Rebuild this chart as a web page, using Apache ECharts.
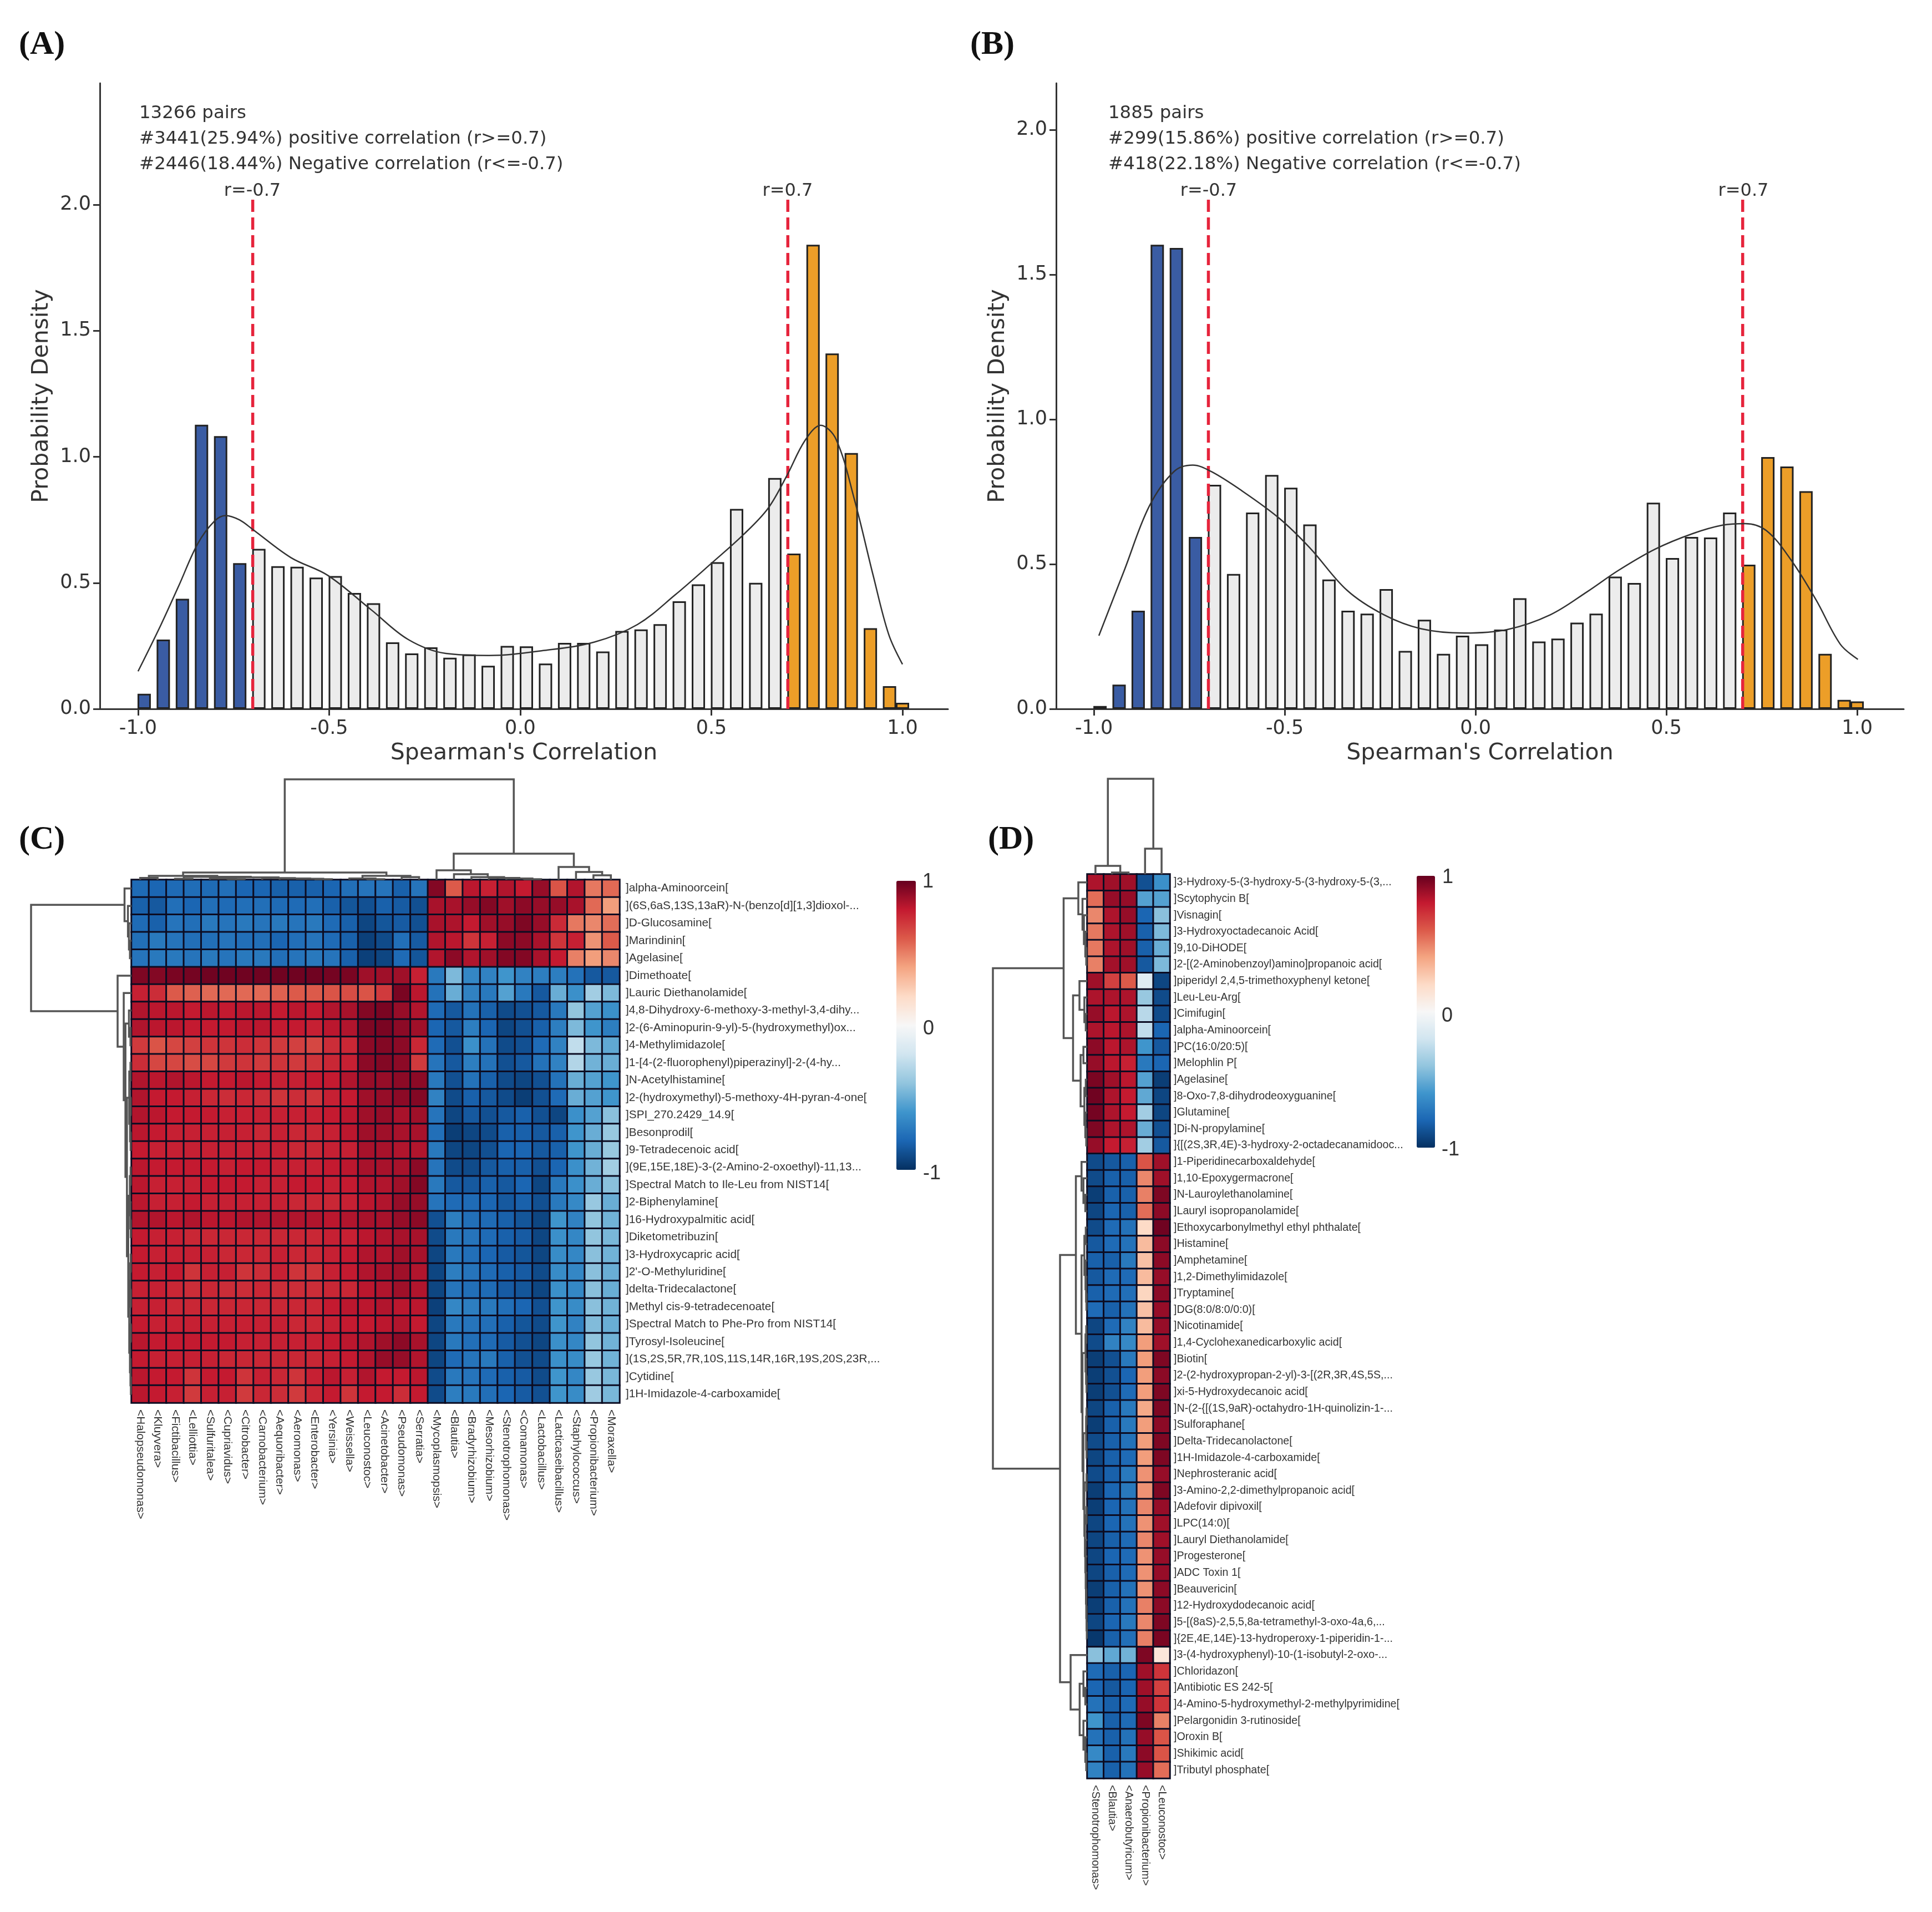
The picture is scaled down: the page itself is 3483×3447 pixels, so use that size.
<!DOCTYPE html>
<html>
<head>
<meta charset="utf-8">
<style>html,body{margin:0;padding:0;background:#fff}#c{width:3483px;height:3447px}</style>
<script src="https://cdn.jsdelivr.net/npm/echarts@6/dist/echarts.min.js"></script>
</head>
<body>
<div id="c"></div>
<script>
// ---------- histogram data ----------
const binCenters = [-0.984,-0.934,-0.884,-0.834,-0.784,-0.734,-0.684,-0.634,-0.584,-0.534,-0.484,-0.434,-0.384,-0.334,-0.284,-0.234,-0.184,-0.134,-0.084,-0.034,0.016,0.066,0.116,0.166,0.216,0.266,0.316,0.366,0.416,0.466,0.516,0.566,0.616,0.666,0.716,0.766,0.816,0.866,0.916,0.966,1.0];
const densityA = [.06,.275,.437,1.127,1.082,.578,.635,.566,.564,.521,.527,.46,.419,.264,.22,.244,.203,.216,.171,.25,.248,.18,.262,.262,.228,.309,.315,.336,.427,.494,.582,.793,.5,.916,.616,1.841,1.41,1.015,.32,.09,.024];
const densityB = [.01,.084,.339,1.603,1.592,.594,.774,.466,.678,.808,.764,.637,.447,.339,.329,.414,.2,.308,.19,.253,.223,.274,.382,.233,.243,.298,.329,.457,.435,.712,.521,.594,.592,.678,.498,.87,.837,.752,.19,.031,.026];
const kdeA = [[-1,.149],[-.94,.334],[-.893,.49],[-.844,.655],[-.8,.745],[-.771,.767],[-.735,.75],[-.70,.712],[-.6,.6],[-.504,.53],[-.39,.393],[-.293,.275],[-.195,.22],[-.082,.212],[.064,.232],[.194,.265],[.307,.335],[.405,.452],[.502,.58],[.583,.69],[.648,.795],[.697,.924],[.745,1.065],[.786,1.125],[.826,1.07],[.875,.826],[.923,.531],[.964,.295],[1,.177]];
const kdeB = [[-.987,.253],[-.92,.48],[-.855,.70],[-.79,.82],[-.741,.842],[-.693,.82],[-.612,.753],[-.515,.659],[-.434,.556],[-.337,.41],[-.24,.325],[-.143,.277],[-.03,.262],[.083,.274],[.196,.325],[.293,.405],[.374,.478],[.471,.552],[.568,.605],[.649,.635],[.706,.64],[.762,.616],[.827,.514],[.892,.377],[.956,.223],[1.002,.171]];
const cutoffs = [-0.7, 0.7];
const cutoffTopA = 2.026, cutoffTopB = 1.764;
const xTicks = [-1, -0.5, 0, 0.5, 1];
const yTicksA = [0, .5, 1, 1.5, 2];
const textA = ['13266 pairs','#3441(25.94%) positive correlation (r>=0.7)','#2446(18.44%) Negative correlation (r<=-0.7)'];
const textB = ['1885 pairs','#299(15.86%) positive correlation (r>=0.7)','#418(22.18%) Negative correlation (r<=-0.7)'];

// ---------- heatmap C ----------
const colsC = ['<Halopseudomonas>','<Kluyvera>','<Fictibacillus>','<Lelliottia>','<Sulfuritalea>','<Cupriavidus>','<Citrobacter>','<Carnobacterium>','<Aequoribacter>','<Aeromonas>','<Enterobacter>','<Yersinia>','<Weissella>','<Leuconostoc>','<Acinetobacter>','<Pseudomonas>','<Serratia>','<Mycoplasmopsis>','<Blautia>','<Bradyrhizobium>','<Mesorhizobium>','<Stenotrophomonas>','<Comamonas>','<Lactobacillus>','<Lacticaseibacillus>','<Staphylococcus>','<Propionibacterium>','<Moraxella>'];
const rowsC = [']alpha-Aminoorcein[','](6S,6aS,13S,13aR)-N-(benzo[d][1,3]dioxol-...',']D-Glucosamine[',']Marindinin[',']Agelasine[',']Dimethoate[',']Lauric Diethanolamide[',']4,8-Dihydroxy-6-methoxy-3-methyl-3,4-dihy...',']2-(6-Aminopurin-9-yl)-5-(hydroxymethyl)ox...',']4-Methylimidazole[',']1-[4-(2-fluorophenyl)piperazinyl]-2-(4-hy...',']N-Acetylhistamine[',']2-(hydroxymethyl)-5-methoxy-4H-pyran-4-one[',']SPI_270.2429_14.9[',']Besonprodil[',']9-Tetradecenoic acid[','](9E,15E,18E)-3-(2-Amino-2-oxoethyl)-11,13...',']Spectral Match to Ile-Leu from NIST14[',']2-Biphenylamine[',']16-Hydroxypalmitic acid[',']Diketometribuzin[',']3-Hydroxycapric acid[',"]2'-O-Methyluridine[",']delta-Tridecalactone[',']Methyl cis-9-tetradecenoate[',']Spectral Match to Phe-Pro from NIST14[',']Tyrosyl-Isoleucine[','](1S,2S,5R,7R,10S,11S,14R,16R,19S,20S,23R,...',']Cytidine[',']1H-Imidazole-4-carboxamide['];
const corrC = [
[-78,-80,-78,-77,-78,-76,-80,-80,-82,-82,-82,-80,-76,-74,-74,-82,-74,94,60,82,78,84,80,90,62,84,52,56],
[-82,-85,-76,-80,-76,-78,-76,-76,-78,-78,-76,-82,-86,-88,-82,-84,-88,86,86,90,94,88,92,90,90,86,56,42],
[-78,-82,-74,-76,-72,-74,-72,-74,-72,-74,-72,-78,-82,-92,-86,-84,-88,86,85,80,88,90,95,90,75,52,48,55],
[-76,-72,-74,-76,-76,-74,-76,-76,-80,-76,-74,-78,-82,-94,-90,-76,-84,84,82,72,78,92,92,86,72,78,45,60],
[-74,-72,-72,-74,-72,-74,-72,-72,-76,-74,-72,-74,-82,-94,-92,-78,-86,84,92,84,88,94,94,86,80,50,42,48],
[95,94,96,97,98,98,98,98,98,98,98,97,96,88,88,88,78,-72,-45,-66,-68,-60,-68,-70,-70,-75,-85,-85],
[78,74,60,58,56,56,56,56,58,60,60,62,64,62,70,96,82,-75,-50,-68,-72,-55,-72,-85,-50,-62,-35,-45],
[84,82,82,80,82,80,82,82,80,82,80,84,86,94,96,90,84,-78,-85,-75,-82,-90,-88,-85,-72,-40,-55,-62],
[84,82,82,80,80,80,82,82,80,80,78,82,84,95,96,92,88,-80,-85,-70,-80,-92,-88,-82,-70,-45,-60,-70],
[70,62,66,68,72,72,74,72,70,68,66,74,76,92,94,92,76,-78,-88,-62,-75,-90,-88,-78,-68,-25,-45,-52],
[74,66,66,64,66,70,72,70,72,70,72,76,78,92,94,92,70,-74,-85,-70,-75,-88,-85,-75,-68,-30,-48,-50],
[84,82,84,82,80,80,82,80,78,78,80,80,84,90,90,92,92,-72,-88,-75,-82,-90,-92,-88,-75,-50,-55,-60],
[84,80,80,78,76,74,76,74,72,74,72,78,80,88,90,92,94,-68,-90,-82,-85,-90,-95,-88,-78,-50,-55,-60],
[84,82,80,80,80,78,78,78,78,78,78,80,82,88,90,86,88,-74,-92,-85,-88,-85,-82,-88,-92,-62,-55,-42],
[82,80,78,78,78,78,78,76,78,76,76,78,82,88,88,86,86,-76,-95,-92,-90,-82,-82,-85,-82,-60,-50,-38],
[80,78,78,78,78,78,78,78,78,76,76,78,78,86,86,84,84,-72,-92,-92,-88,-80,-80,-85,-82,-60,-50,-38],
[82,80,80,80,80,78,80,80,78,78,78,80,82,86,86,86,92,-74,-90,-90,-85,-82,-82,-88,-80,-62,-48,-35],
[82,78,78,78,80,80,80,78,78,80,80,78,80,84,84,88,94,-72,-85,-85,-82,-85,-80,-92,-72,-62,-50,-42],
[82,78,78,80,78,78,78,78,78,76,76,76,78,82,84,90,90,-74,-78,-78,-80,-85,-82,-88,-72,-65,-38,-50],
[84,84,82,84,82,82,84,84,84,84,84,82,84,86,86,90,92,-88,-70,-76,-78,-82,-86,-92,-60,-68,-40,-48],
[80,78,78,76,76,76,76,76,76,76,76,78,78,82,84,86,86,-90,-72,-74,-78,-82,-84,-92,-62,-66,-40,-46],
[80,78,78,78,78,76,76,76,78,76,76,78,80,84,84,88,86,-92,-72,-76,-80,-84,-86,-92,-64,-66,-42,-48],
[80,78,80,72,78,78,72,74,78,72,72,78,80,84,86,88,84,-92,-70,-74,-78,-82,-84,-90,-64,-66,-42,-50],
[78,78,76,74,76,74,74,76,74,74,74,76,76,82,84,88,84,-92,-74,-76,-78,-84,-86,-92,-62,-66,-42,-50],
[78,78,76,76,76,76,76,76,76,76,76,80,82,82,84,82,82,-94,-66,-70,-72,-76,-80,-88,-60,-64,-42,-48],
[80,78,78,78,78,78,78,78,78,76,76,78,80,80,82,84,80,-92,-72,-74,-76,-82,-86,-90,-60,-68,-44,-50],
[82,80,80,80,80,80,78,78,78,78,78,80,82,84,88,92,86,-92,-72,-76,-78,-84,-88,-92,-62,-66,-40,-48],
[80,78,78,78,78,76,76,76,76,76,76,78,80,84,90,90,84,-92,-78,-74,-72,-82,-88,-90,-62,-64,-38,-48],
[82,80,80,72,80,80,72,78,76,72,78,82,78,84,80,80,82,-90,-72,-74,-78,-82,-84,-90,-60,-66,-38,-46],
[82,80,78,70,78,78,70,76,74,70,76,80,72,80,80,74,80,-90,-70,-72,-76,-80,-84,-88,-60,-64,-36,-46]
];

// ---------- heatmap D ----------
const colsD = ['<Stenotrophomonas>','<Blautia>','<Anaerobutyricum>','<Propionibacterium>','<Leuconostoc>'];
const rowsD = [']3-Hydroxy-5-(3-hydroxy-5-(3-hydroxy-5-(3,...',']Scytophycin B[',']Visnagin[',']3-Hydroxyoctadecanoic Acid[',']9,10-DiHODE[',']2-[(2-Aminobenzoyl)amino]propanoic acid[',']piperidyl 2,4,5-trimethoxyphenyl ketone[',']Leu-Leu-Arg[',']Cimifugin[',']alpha-Aminoorcein[',']PC(16:0/20:5)[',']Melophlin P[',']Agelasine[',']8-Oxo-7,8-dihydrodeoxyguanine[',']Glutamine[',']Di-N-propylamine[',']{[(2S,3R,4E)-3-hydroxy-2-octadecanamidooc...',']1-Piperidinecarboxaldehyde[',']1,10-Epoxygermacrone[',']N-Lauroylethanolamine[',']Lauryl isopropanolamide[',']Ethoxycarbonylmethyl ethyl phthalate[',']Histamine[',']Amphetamine[',']1,2-Dimethylimidazole[',']Tryptamine[',']DG(8:0/8:0/0:0)[',']Nicotinamide[',']1,4-Cyclohexanedicarboxylic acid[',']Biotin[',']2-(2-hydroxypropan-2-yl)-3-[(2R,3R,4S,5S,...',']xi-5-Hydroxydecanoic acid[',']N-(2-{[(1S,9aR)-octahydro-1H-quinolizin-1-...',']Sulforaphane[',']Delta-Tridecanolactone[',']1H-Imidazole-4-carboxamide[',']Nephrosteranic acid[',']3-Amino-2,2-dimethylpropanoic acid[',']Adefovir dipivoxil[',']LPC(14:0)[',']Lauryl Diethanolamide[',']Progesterone[',']ADC Toxin 1[',']Beauvericin[',']12-Hydroxydodecanoic acid[',']5-[(8aS)-2,5,5,8a-tetramethyl-3-oxo-4a,6,...',']{2E,4E,14E)-13-hydroperoxy-1-piperidin-1-...',']3-(4-hydroxyphenyl)-10-(1-isobutyl-2-oxo-...',']Chloridazon[',']Antibiotic ES 242-5[',']4-Amino-5-hydroxymethyl-2-methylpyrimidine[',']Pelargonidin 3-rutinoside[',']Oroxin B[',']Shikimic acid[',']Tributyl phosphate['];
const corrD = [
[85,88,88,-88,-62],[55,90,90,-55,-55],[48,85,90,-80,-42],[52,85,88,-82,-45],[52,85,88,-82,-50],[50,87,88,-85,-45],
[88,68,60,-12,-92],[85,85,85,-38,-90],[90,82,85,-28,-90],[85,82,85,-25,-80],[92,82,85,-60,-85],[90,82,78,-72,-80],
[96,88,82,-55,-95],[98,85,80,-52,-92],[97,85,80,-35,-92],[95,85,85,-50,-88],[90,80,78,-35,-85],
[-90,-85,-82,62,88],[-90,-82,-82,48,88],[-95,-82,-82,50,95],[-92,-80,-82,55,92],[-90,-78,-75,20,98],[-85,-78,-75,32,92],
[-82,-82,-72,30,92],[-85,-78,-78,32,90],[-82,-78,-76,22,92],[-78,-82,-75,30,90],[-92,-78,-68,32,90],[-90,-68,-65,42,88],
[-95,-88,-72,42,95],[-95,-88,-80,42,92],[-95,-88,-78,42,95],[-92,-82,-72,38,95],[-95,-82,-72,42,92],[-90,-82,-75,42,95],
[-92,-82,-78,42,95],[-90,-82,-72,45,90],[-95,-80,-72,45,95],[-95,-80,-75,48,90],[-92,-80,-75,45,88],[-92,-82,-78,48,88],
[-92,-80,-78,45,90],[-92,-82,-78,45,90],[-95,-82,-75,45,92],[-95,-82,-75,50,92],[-92,-80,-72,48,95],[-97,-82,-76,50,96],
[-42,-52,-48,95,12],[-78,-82,-80,88,72],[-80,-85,-80,88,68],[-75,-82,-78,90,72],[-60,-82,-78,95,50],[-75,-82,-75,90,62],[-65,-82,-72,92,62],[-68,-82,-75,90,55]
];

// ---------- dendrograms: [left, right, distance]; a bare number is a leaf ----------
const treeCTopA = [[0,1,1.8],[[2,3,1],[[4,[5,6,.6],1.2],[7,[8,[9,[10,11,.5],.9],1.3],1.7],2.4],2.9],3.8];
const treeCTopB = [[12,[13,14,.6],1.2],[15,16,2.6],3.8];
const treeCTop = [
  [treeCTopA,treeCTopB,7.2],
  [[17,[18,[19,[20,[21,[22,23,.6],1.2],1.8],2.6],5.5],9.4],[24,[25,[26,27,4.4],7.7],12.7],26],
  100];
const treeCLeft = [
  [0,[1,[2,[3,4,1.5],2.5],3.5],6.9],
  [5,[6,[[7,[8,9,1],2.5],[[[10,11,1],[[12,13,.8],[14,15,.8],1.4],2.2],
     [[[16,17,.8],[18,[19,20,.7],1.1],1.6],[[[21,22,.7],[23,24,.7],1.2],[[25,26,.7],[27,[28,29,.6],1],1.5],2.2],3.2],4.5],6],7.7],13.8],
  100];
const treeDTop = [[0,[1,2,1.7],8.7],[3,4,26.7],100];
const treeDLeft = [
  [[0,[1,[2,[3,[4,5,1],2],3.5],5],9.4],
   [[6,[7,[8,9,1.5],3],8.2],[[10,11,4],[[12,13,1.5],[14,[15,16,1],2],3],7],15],25],
  [[[17,[18,[19,20,2],4],6],
    [[[21,22,1.5],[23,[24,[25,26,.8],1.2],1.8],3],
     [[[27,28,1],[29,[30,31,.7],1.2],1.8],
      [[[32,33,.7],[34,35,.7],1.2],[[36,37,.7],[[38,39,.7],[40,[41,[42,[43,[44,[45,46,.4],.7],1],1.3],1.6],2],2.4],3],4],5],6],12],
   [47,[[48,[49,50,2],4],[51,[52,[53,54,1],2],4],8],17.6],28.8],
  100];

// ---------- palettes ----------
const rdBu = ['#053061','#1b66b3','#3f95cc','#92c5de','#d1e5f0','#f7f7f7','#fddbc7','#f4a582','#dc5a4a','#c41a30','#67001f'];
const barBlue = '#3A5CA3', barGrey = '#ECECEC', barOrange = '#EC9E28';
const SANS = '"DejaVu Sans"', ARIAL = '"Liberation Sans"', SERIF = '"Liberation Serif"';

// ---------- helpers ----------
function flatten(m, div){ const o=[]; m.forEach((r,j)=>r.forEach((v,i)=>o.push([i,j,v/div]))); return o; }
function segments(tree){
  const segs=[];
  (function walk(n){
    if(typeof n==='number') return {pos:n+.5,d:0};
    const a=walk(n[0]), b=walk(n[1]);
    segs.push([a.pos,a.d,b.pos,b.d,n[2]]);
    return {pos:(a.pos+b.pos)/2,d:n[2]};
  })(tree);
  return segs;
}
function dendroSeries(tree, ax, horizontal){
  return {
    type:'custom', xAxisIndex:ax, yAxisIndex:ax, clip:false, silent:true, animation:false,
    data:segments(tree),
    renderItem(params, api){
      const P=horizontal ? (p,d)=>api.coord([d,p]) : (p,d)=>api.coord([p,d]);
      const a=api.value(0),da=api.value(1),b=api.value(2),db=api.value(3),d=api.value(4);
      return {type:'polyline',shape:{points:[P(a,da),P(a,d),P(b,d),P(b,db)]},
              style:{stroke:'#555',lineWidth:3.5,fill:null}};
    }
  };
}
function histAxes(min,max,ymax,name){
  return {
    x:{gridIndex:name,type:'value',min,max,name:"Spearman's Correlation",nameLocation:'middle',nameGap:60,
       nameTextStyle:{fontFamily:SANS,fontSize:41,color:'#333'},splitLine:{show:false},
       axisLine:{onZero:false,lineStyle:{color:'#333',width:3}},
       axisTick:{customValues:xTicks,length:12,lineStyle:{color:'#333',width:3}},
       axisLabel:{customValues:xTicks,formatter:v=>v.toFixed(1),fontFamily:SANS,fontSize:35,color:'#333',margin:18}},
    y:{gridIndex:name,type:'value',min:0,max:ymax,name:'Probability Density',nameLocation:'middle',nameGap:84,
       nameTextStyle:{fontFamily:SANS,fontSize:41,color:'#333'},splitLine:{show:false},
       axisLine:{show:true,onZero:false,lineStyle:{color:'#333',width:3}},
       axisTick:{show:true,customValues:yTicksA,length:12,lineStyle:{color:'#333',width:3}},
       axisLabel:{customValues:yTicksA,formatter:v=>v.toFixed(1),fontFamily:SANS,fontSize:35,color:'#333',margin:16,padding:[12,0,0,0]}}
  };
}
function histSeries(ax,vals,kde,top){
  const out=[{
    type:'bar',xAxisIndex:ax,yAxisIndex:ax,barWidth:24,animation:false,z:2,
    data:binCenters.map((x,i)=>[x,vals[i]]),
    itemStyle:{borderColor:'#222',borderWidth:3,color:p=>p.value[0]<=cutoffs[0]?barBlue:(p.value[0]>=cutoffs[1]?barOrange:barGrey)}
  },{
    type:'line',xAxisIndex:ax,yAxisIndex:ax,data:kde,smooth:.35,showSymbol:false,animation:false,z:4,
    lineStyle:{color:'#333',width:2.5}
  }];
  cutoffs.forEach(c=>out.push({
    type:'line',xAxisIndex:ax,yAxisIndex:ax,data:[[c,0],[c,top]],showSymbol:false,animation:false,z:3,
    lineStyle:{color:'#E6243C',width:5.5,type:[22,10]}
  }));
  return out;
}
function heatAxes(grid,cols,rows,fs,rowMargin){
  return {
    x:{gridIndex:grid,type:'category',data:cols,position:'bottom',axisLine:{show:false},axisTick:{show:false},splitLine:{show:false},
       axisLabel:{interval:0,rotate:-90,fontFamily:ARIAL,fontSize:fs,color:'#333',margin:12}},
    y:{gridIndex:grid,type:'category',data:rows,inverse:true,position:'right',axisLine:{show:false},axisTick:{show:false},splitLine:{show:false},
       axisLabel:{interval:0,fontFamily:ARIAL,fontSize:fs,color:'#333',margin:rowMargin,padding:[16,0,0,0]}}
  };
}
function hidden(grid,min,max,inverse){
  return {gridIndex:grid,type:'value',min,max,inverse:!!inverse,show:false};
}
function txt(text,x,y,font,size,opt){
  return {type:'text',x,y,silent:true,style:Object.assign({text,fontFamily:font,fontSize:size,fill:'#333',textVerticalAlign:'middle',textAlign:'left'},opt||{})};
}

// ---------- layout ----------
const grids=[
  {left:180,top:150,width:1529,height:1128},
  {left:1904,top:150,width:1528,height:1128},
  {left:237,top:1586,width:880,height:943},
  {left:1960,top:1576,width:149,height:1630},
  {left:237,top:1405,width:880,height:181},
  {left:56,top:1586,width:181,height:943},
  {left:1960,top:1404,width:149,height:172},
  {left:1790,top:1576,width:170,height:1630}
];
const hA=histAxes(-1.1,1.119,2.482,0), hB=histAxes(-1.099,1.122,2.161,1);
const mC=heatAxes(2,colsC,rowsC,20.8,11), mD=heatAxes(3,colsD,rowsD,19.7,7);

const bold={fontWeight:'bold',fill:'#111'};
const graphics=[
  txt('(A)',34,81,SERIF,60,bold),
  txt('(B)',1749,81,SERIF,60,bold),
  txt('(C)',34,1514,SERIF,60,bold),
  txt('(D)',1781,1514,SERIF,60,bold),
  txt(textA[0],251,205,SANS,32.4), txt(textA[1],251,251,SANS,32.4), txt(textA[2],251,297,SANS,32.4),
  txt('r=-0.7',455,345,SANS,32,{textAlign:'center'}), txt('r=0.7',1420,345,SANS,32,{textAlign:'center'}),
  txt(textB[0],1998,205,SANS,32.4), txt(textB[1],1998,251,SANS,32.4), txt(textB[2],1998,297,SANS,32.4),
  txt('r=-0.7',2179,345,SANS,32,{textAlign:'center'}), txt('r=0.7',3143,345,SANS,32,{textAlign:'center'}),
  txt('1',1663,1590,ARIAL,36), txt('0',1664,1855,ARIAL,36), txt('-1',1664,2116,ARIAL,36),
  txt('1',2600,1582,ARIAL,36), txt('0',2599,1832,ARIAL,36), txt('-1',2599,2073,ARIAL,36)
];

const heatStyle={borderColor:'#0c0c22',borderWidth:3};
const option={
  backgroundColor:'#fff',
  animation:false,
  grid:grids,
  xAxis:[hA.x,hB.x,mC.x,mD.x,hidden(4,0,28),hidden(5,0,100,true),hidden(6,0,5),hidden(7,0,100,true)],
  yAxis:[hA.y,hB.y,mC.y,mD.y,hidden(4,0,100),hidden(5,0,30,true),hidden(6,0,100),hidden(7,0,55,true)],
  visualMap:[
    {type:'continuous',seriesIndex:8,min:-1,max:1,calculable:false,left:1616,top:1588,itemWidth:35,itemHeight:521,padding:0,text:null,showLabel:false,inRange:{color:rdBu}},
    {type:'continuous',seriesIndex:9,min:-1,max:1,calculable:false,left:2554,top:1579,itemWidth:33,itemHeight:490,padding:0,text:null,showLabel:false,inRange:{color:rdBu}}
  ],
  series:[
    ...histSeries(0,densityA,kdeA,cutoffTopA),
    ...histSeries(1,densityB,kdeB,cutoffTopB),
    {type:'heatmap',xAxisIndex:2,yAxisIndex:2,data:flatten(corrC,100),progressive:0,animation:false,itemStyle:heatStyle},
    {type:'heatmap',xAxisIndex:3,yAxisIndex:3,data:flatten(corrD,100),progressive:0,animation:false,itemStyle:heatStyle},
    dendroSeries(treeCTop,4,false),
    dendroSeries(treeCLeft,5,true),
    dendroSeries(treeDTop,6,false),
    dendroSeries(treeDLeft,7,true)
  ],
  graphic:graphics
};
const chart=echarts.init(document.getElementById('c'),null,{renderer:'canvas',width:3483,height:3447});
chart.setOption(option);
</script>
</body>
</html>
